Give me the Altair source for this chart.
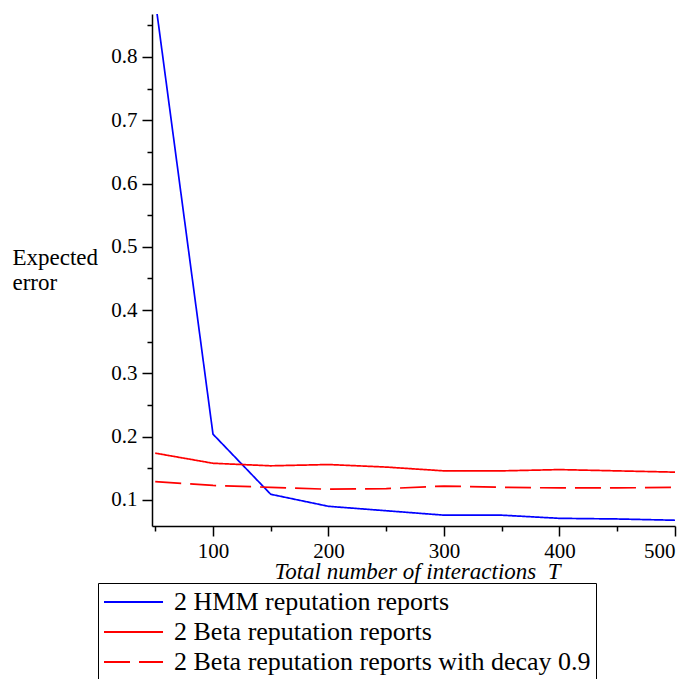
import altair as alt
import pandas as pd

T = [50, 100, 150, 200, 250, 300, 350, 400, 450, 500]
hmm = [0.89, 0.204, 0.109, 0.090, 0.083, 0.076, 0.076, 0.071, 0.070, 0.068]
beta = [0.174, 0.158, 0.154, 0.156, 0.152, 0.146, 0.146, 0.148, 0.146, 0.144]
beta_decay = [0.129, 0.123, 0.120, 0.117, 0.118, 0.122, 0.120, 0.119, 0.119, 0.120]

series = [
    "2 HMM reputation reports",
    "2 Beta reputation reports",
    "2 Beta reputation reports with decay 0.9",
]
colors = ["#0000ff", "#ff0000", "#ff0000"]
dashes = [[1, 0], [1, 0], [26, 9]]

x_ticks = [50, 100, 150, 200, 250, 300, 350, 400, 450, 500]
y_ticks = [0.1, 0.15, 0.2, 0.25, 0.3, 0.35, 0.4, 0.45, 0.5, 0.55, 0.6, 0.65, 0.7, 0.75, 0.8, 0.85]

rows = []
for name, vals in zip(series, [hmm, beta, beta_decay]):
    for t, v in zip(T, vals):
        rows.append({"T": t, "err": v, "series": name})
df = pd.DataFrame(rows)

FONT = "Liberation Serif"

leg = alt.Legend(
    title=None,
    orient="none",
    legendX=-54,
    legendY=569,
    direction="vertical",
    strokeColor="black",
    padding=5,
    labelFont=FONT,
    labelFontSize=26,
    labelColor="black",
    labelLimit=700,
    labelOffset=43,
    symbolType="M-1,0H3.54",
    symbolSize=676,
    symbolStrokeWidth=1.8,
    rowPadding=3,
)

chart = (
    alt.Chart(df)
    .mark_line(strokeWidth=1.7, clip=True)
    .encode(
        x=alt.X(
            "T:Q",
            scale=alt.Scale(domain=[47.2, 500], nice=False, zero=False),
            axis=alt.Axis(
                values=x_ticks,
                labelExpr="datum.value % 100 == 0 ? datum.value : ''",
                title="Total number of interactions\u00a0\u00a0T",
                titleFont=FONT,
                titleFontStyle="italic",
                titleFontWeight="normal",
                titleFontSize=23,
                titleColor="black",
                titleX=265,
                titleY=52,
                titleAlign="center",
                titleBaseline="alphabetic",
                tickSize=alt.condition("datum.value % 100 == 0", alt.value(10), alt.value(5)),
                labelPadding=4,
            ),
        ),
        y=alt.Y(
            "err:Q",
            scale=alt.Scale(domain=[0.0589, 0.8678], nice=False, zero=False),
            axis=alt.Axis(
                values=y_ticks,
                labelExpr="round(datum.value*100) % 10 == 0 ? format(datum.value, '.1f') : ''",
                title=["Expected", "error"],
                titleFont=FONT,
                titleFontWeight="normal",
                titleFontSize=23,
                titleColor="black",
                titleAngle=0,
                titleAlign="left",
                titleBaseline="alphabetic",
                titleX=-140,
                titleY=250,
                titleLineHeight=25,
                tickSize=alt.condition("round(datum.value*100) % 10 == 0", alt.value(10), alt.value(5)),
                labelPadding=5,
            ),
        ),
        color=alt.Color("series:N", scale=alt.Scale(domain=series, range=colors), legend=leg),
        strokeDash=alt.StrokeDash("series:N", scale=alt.Scale(domain=series, range=dashes), legend=leg),
    )
    .properties(
        width=523,
        height=512,
        autosize=alt.AutoSizeParams(type="none"),
        padding={"left": 144, "top": 6, "right": 9, "bottom": 153},
    )
    .configure_view(stroke=None)
    .configure_axis(
        grid=False,
        domainColor="black",
        domainWidth=1.5,
        tickColor="black",
        tickWidth=1.5,
        labelFont=FONT,
        labelFontSize=21,
        labelColor="black",
    )
)

chart.save("out.html", embed_options={"renderer": "svg", "actions": False})
